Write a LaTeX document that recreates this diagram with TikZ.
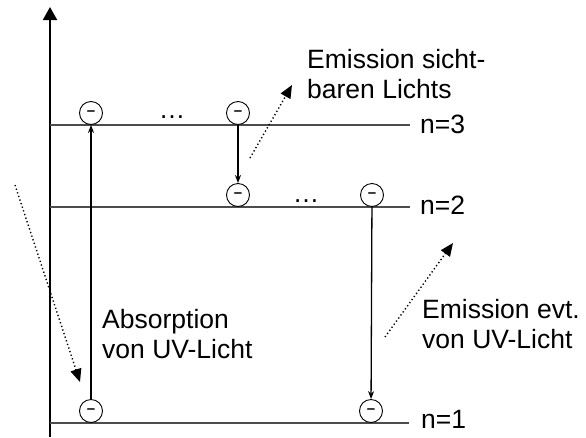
\documentclass[tikz,border=0pt]{standalone}
\usepackage{fontspec}
\setmainfont{Liberation Sans}
\usetikzlibrary{arrows.meta}
\begin{document}
\begin{tikzpicture}[x=1pt,y=-1pt,
  level/.style={draw=black!70, line width=1.3pt},
  electron/.style={circle, draw, line width=0.9pt, minimum size=23pt, inner sep=0pt, fill=white, font=\fontsize{15}{15}\selectfont\bfseries},
  trans/.style={line width=1.3pt, -{Stealth[length=8pt,width=6pt]}},
  photon/.style={line width=1.4pt, dash pattern=on 1.3pt off 2.5pt, -{Triangle[length=13pt,width=11pt]}},
  lbl/.style={font=\fontsize{26.5}{30}\selectfont, inner sep=0pt, anchor=north west, align=left},
  nlbl/.style={font=\fontsize{26.5}{30}\selectfont, inner sep=0pt, anchor=base west},
  dotsl/.style={font=\fontsize{26.5}{30}\selectfont, inner sep=0pt, anchor=base},
]
\useasboundingbox (0,0) rectangle (586,437);
% axis
\coordinate (axb) at (50,437);
\coordinate (axt) at (50,7);
\draw[line width=2pt, -{Triangle[length=13pt,width=14pt]}] (axb) -- (axt);
% levels
\coordinate (l3a) at (50,125); \coordinate (l3b) at (410,125);
\coordinate (l2a) at (50,207); \coordinate (l2b) at (410,207);
\coordinate (l1a) at (50,423); \coordinate (l1b) at (409,423);
\draw[level] (l3a) -- (l3b);
\draw[level] (l2a) -- (l2b);
\draw[level] (l1a) -- (l1b);
\node[nlbl] (n3) at (420,133) {n=3};
\node[nlbl] (n2) at (420,214) {n=2};
\node[nlbl] (n1) at (421,428) {n=1};
% electrons
\node[electron] (e1) at (91,113) {–};
\node[electron] (e2) at (238,113) {–};
\node[electron] (e3) at (238,195) {–};
\node[electron] (e4) at (372,195) {–};
\node[electron] (e5) at (91,411) {–};
\node[electron] (e6) at (371,411) {–};
\node[dotsl] (d3) at (172,118) {…};
\node[dotsl] (d2) at (306,202) {…};
% transitions
\draw[trans] (e5) -- (e1);
\draw[trans] (e2) -- (e3);
\draw[trans] (e4) -- (e6);
% photons
\coordinate (p1a) at (250,158); \coordinate (p1b) at (292,85);
\coordinate (p2a) at (385,337); \coordinate (p2b) at (453,243);
\coordinate (p3a) at (15,185); \coordinate (p3b) at (80,382);
\draw[photon] (p1a) -- (p1b);
\draw[photon] (p2a) -- (p2b);
\draw[photon] (p3a) -- (p3b);
% labels
\node[lbl] (t1) at (307,49) {Emission sicht-\\baren Lichts};
\node[lbl] (t2) at (102,309) {Absorption\\von UV-Licht};
\node[lbl] (t3) at (422,299) {Emission evt.\\von UV-Licht};
\end{tikzpicture}
\end{document}
